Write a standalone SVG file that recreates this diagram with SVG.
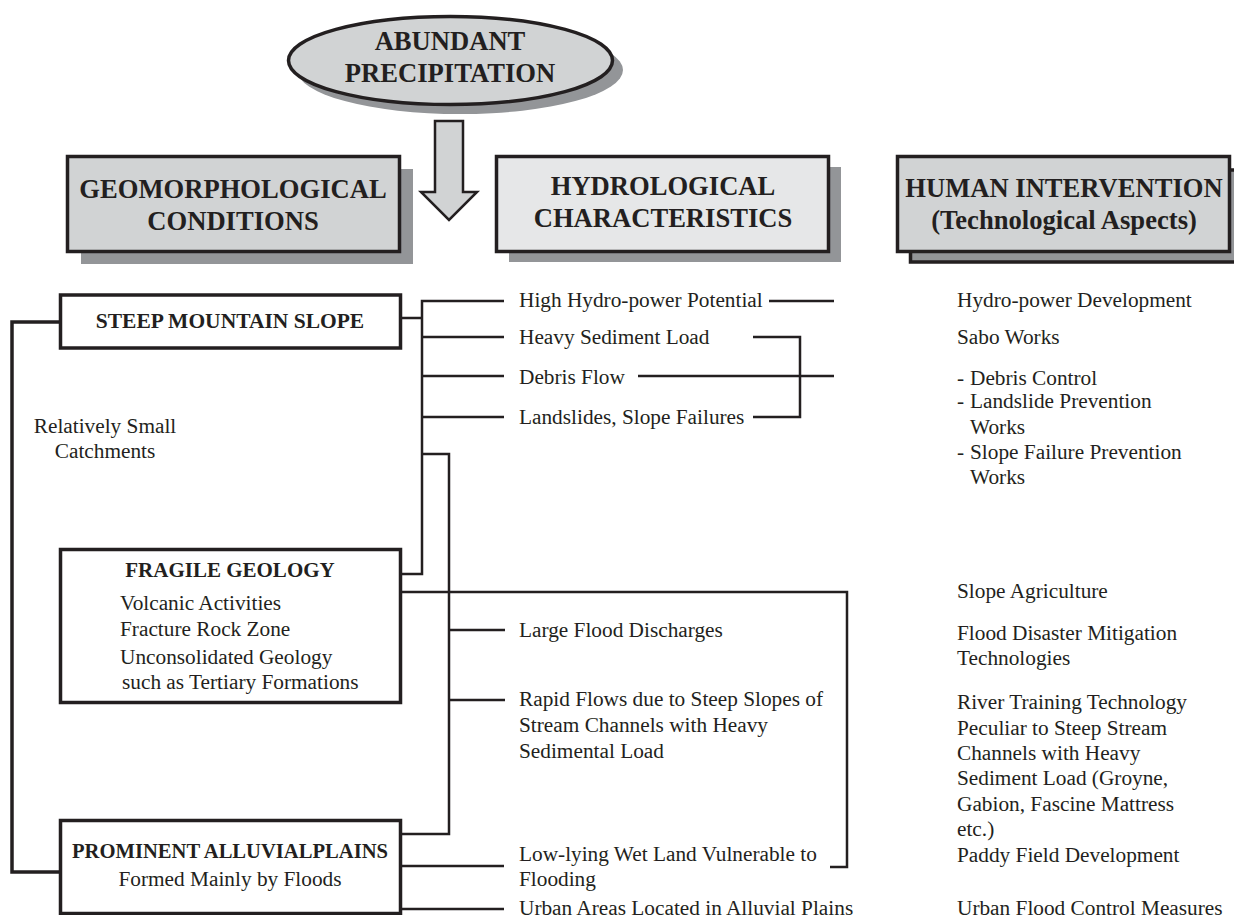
<svg xmlns="http://www.w3.org/2000/svg" width="1234" height="915" viewBox="0 0 1234 915">
<style>
text{font-family:"Liberation Serif","Times New Roman",serif;fill:#231f20;font-size:21.300px}
.h{font-weight:bold;font-size:26.600px;text-anchor:middle}
.b{font-weight:bold;font-size:21px;text-anchor:middle}
.m{text-anchor:middle}
.s{fill:#939598}
.f{stroke:#231f20;stroke-width:3.5}
.l{fill:none;stroke:#231f20;stroke-width:2.5}
.t{fill:none;stroke:#231f20;stroke-width:3.5}
</style>
<rect width="1234" height="915" fill="#fff"/>
<g id="connectors">
<path class="t" d="M59 322H12V872H59"/>
<path class="l" d="M402 318H422M504 301H422V574H402M422 337H504M422 376H504M422 417H504M422 454H449V834H402M449 630H505M449 700H505"/>
<path class="l" d="M402 592H847V867H830M402 866H504M402 909H504"/>
<path class="l" d="M769 301H834M753 337H800V417H753M638 376H834"/>
</g>
<g id="precipitation">
<ellipse class="s" cx="460" cy="70" rx="163" ry="44"/>
<ellipse cx="450.500" cy="60.500" rx="162" ry="44" fill="#d1d3d4" stroke="#231f20" stroke-width="3.500"/>
<text class="h" x="450" y="50">ABUNDANT</text>
<text class="h" x="450" y="82">PRECIPITATION</text>
</g>
<g id="arrow"><path d="M435 121H463V192H477L449 220L421 192H435Z" fill="#d1d3d4" stroke="#231f20" stroke-width="2.500"/></g>
<g id="geomorphological">
<rect class="s" x="81" y="169" width="332" height="95"/>
<rect class="f" x="67.500" y="156.500" width="332" height="95" fill="#d1d3d4"/>
<text class="h" x="233" y="198">GEOMORPHOLOGICAL</text>
<text class="h" x="233" y="230">CONDITIONS</text>
</g>
<g id="hydrological">
<rect class="s" x="509" y="167" width="332" height="95"/>
<rect class="f" x="496.500" y="156.500" width="332" height="95" fill="#e6e7e8"/>
<text class="h" x="663" y="195">HYDROLOGICAL</text>
<text class="h" x="663" y="227">CHARACTERISTICS</text>
</g>
<g id="human">
<rect class="f" x="910.500" y="170" width="330" height="92" fill="#939598"/>
<rect class="f" x="897.500" y="156.500" width="332" height="95" fill="#d1d3d4"/>
<text class="h" x="1064" y="197">HUMAN INTERVENTION</text>
<text class="h" x="1064" y="229">(Technological Aspects)</text>
</g>
<g id="steep">
<rect class="f" x="60.500" y="295" width="340" height="53" fill="#fff"/>
<text class="b" x="230" y="328" style="font-size:21.500px">STEEP MOUNTAIN SLOPE</text>
</g>
<g id="fragile">
<rect class="f" x="60.500" y="549.500" width="340" height="153" fill="#fff"/>
<text class="b" x="230" y="577">FRAGILE GEOLOGY</text>
<text x="120" y="610">Volcanic Activities</text>
<text x="120" y="636">Fracture Rock Zone</text>
<text x="120" y="664">Unconsolidated Geology</text>
<text x="122" y="689">such as Tertiary Formations</text>
</g>
<g id="alluvial">
<rect class="f" x="60.500" y="820.500" width="340" height="93" fill="#fff"/>
<text class="b" x="230" y="858" style="font-size:20.600px">PROMINENT ALLUVIALPLAINS</text>
<text class="m" x="230" y="886">Formed Mainly by Floods</text>
</g>
<g id="catchments">
<text class="m" x="105" y="433">Relatively Small</text>
<text class="m" x="105" y="458">Catchments</text>
</g>
<g id="hydro-text">
<text x="519" y="307">High Hydro-power Potential</text>
<text x="519" y="344">Heavy Sediment Load</text>
<text x="519" y="384">Debris Flow</text>
<text x="519" y="424">Landslides, Slope Failures</text>
<text x="519" y="637">Large Flood Discharges</text>
<text x="519" y="706">Rapid Flows due to Steep Slopes of</text>
<text x="519" y="732">Stream Channels with Heavy</text>
<text x="519" y="758">Sedimental Load</text>
<text x="519" y="861">Low-lying Wet Land Vulnerable to</text>
<text x="519" y="886">Flooding</text>
<text x="519" y="915">Urban Areas Located in Alluvial Plains</text>
</g>
<g id="human-text">
<text x="957" y="307">Hydro-power Development</text>
<text x="957" y="344">Sabo Works</text>
<text x="957" y="385">- </text><text x="970" y="385">Debris Control</text>
<text x="957" y="408">- </text><text x="970" y="408">Landslide Prevention</text>
<text x="970" y="434">Works</text>
<text x="957" y="459">- </text><text x="970" y="459">Slope Failure Prevention</text>
<text x="970" y="484">Works</text>
<text x="957" y="598">Slope Agriculture</text>
<text x="957" y="640">Flood Disaster Mitigation</text>
<text x="957" y="665">Technologies</text>
<text x="957" y="709">River Training Technology</text>
<text x="957" y="735">Peculiar to Steep Stream</text>
<text x="957" y="760">Channels with Heavy</text>
<text x="957" y="785">Sediment Load (Groyne,</text>
<text x="957" y="811">Gabion, Fascine Mattress</text>
<text x="957" y="836">etc.)</text>
<text x="957" y="862">Paddy Field Development</text>
<text x="957" y="915">Urban Flood Control Measures</text>
</g>
</svg>
